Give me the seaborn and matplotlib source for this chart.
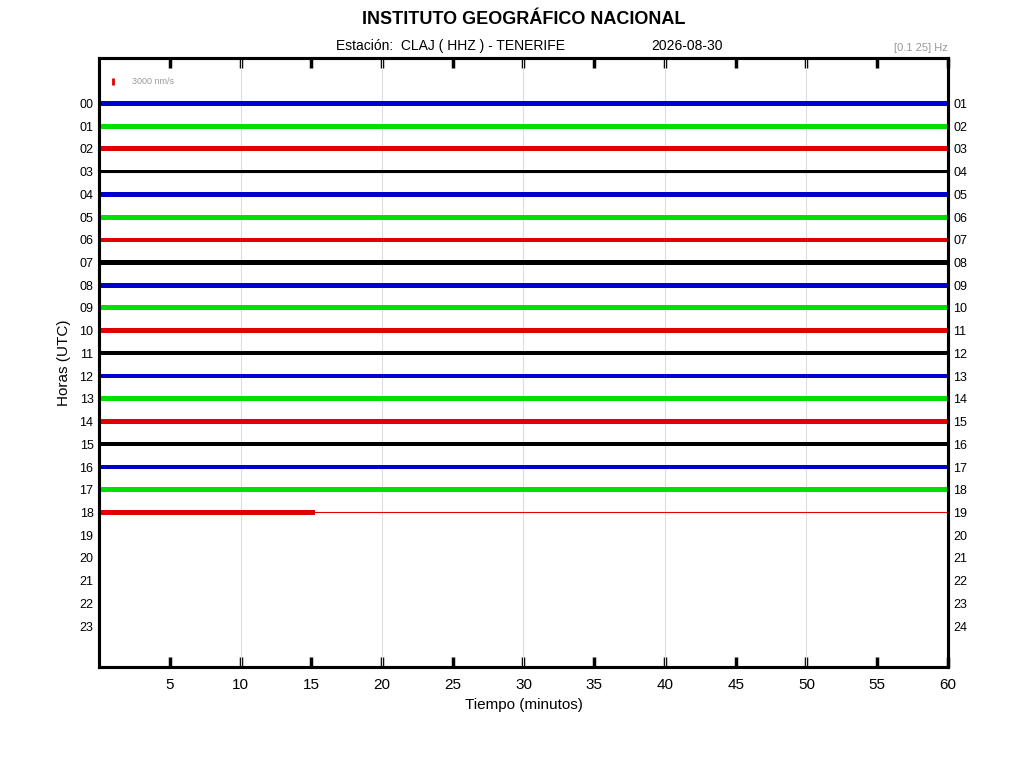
import numpy as np
import pandas as pd
import matplotlib
matplotlib.use("Agg")
import matplotlib.pyplot as plt
import seaborn as sns

sns.set_theme(style="white")
plt.rcParams["font.family"] = ["Liberation Sans", "DejaVu Sans"]
plt.rcParams["text.color"] = "black"
plt.rcParams["axes.labelcolor"] = "black"
plt.rcParams["xtick.color"] = "black"
plt.rcParams["ytick.color"] = "black"

# helicorder rows: one per hour, trace recorded until end_min
hours = list(range(24))
left_labels = [f"{h:02d}" for h in hours]
right_labels = [f"{h + 1:02d}" for h in hours]
trace_colors = ["#0000cc", "#00e000", "#e00000", "#000000"]
# half-width of the noise band in row units
noise_amp = [0.11, 0.11, 0.11, 0.08, 0.11, 0.11, 0.10, 0.09, 0.10, 0.11,
             0.10, 0.09, 0.10, 0.11, 0.11, 0.09, 0.10, 0.11, 0.09]
end_min = [60] * 18 + [15.3]
last_row_flat_to = 60
xticks = [5, 10, 15, 20, 25, 30, 35, 40, 45, 50, 55, 60]
grid_x = [10, 20, 30, 40, 50]

fig = plt.figure(figsize=(10.24, 7.68), dpi=100)
ax = fig.add_axes([0.0967, 0.1315, 0.829, 0.793])

rows = []
for i, amp in enumerate(noise_amp):
    color = trace_colors[i % 4]
    ax.fill_between([0, end_min[i]], [i - amp, i - amp], [i + amp, i + amp],
                    color=color, lw=0, zorder=3)
    rows.append({"row": i, "x0": 0, "x1": last_row_flat_to, "color": color})

lines = pd.DataFrame(rows)
for _, r in lines.iterrows():
    sns.lineplot(x=[r["x0"], r["x1"]], y=[r["row"], r["row"]], color=r["color"],
                 lw=0.8, ax=ax, zorder=4)

for gx in grid_x:
    ax.axvline(gx, color="#dddddd", lw=0.8, zorder=1)

ax.set_xlim(0, 60)
ax.set_ylim(24.8, -2.0)
ax.set_xticks(xticks)
ax.set_xticklabels([str(t) for t in xticks], fontsize=11)
ax.set_yticks(hours)
ax.set_yticklabels(left_labels, fontsize=9)
ax.tick_params(axis="x", direction="in", length=7, width=2.5, top=True,
               bottom=True, pad=8, color="black")
ax.tick_params(axis="y", length=0, pad=4, labelsize=9)

ax_r = ax.twinx()
ax_r.set_ylim(ax.get_ylim())
ax_r.set_yticks(hours)
ax_r.set_yticklabels(right_labels, fontsize=9)
ax_r.tick_params(axis="y", length=0, pad=4)
ax_r.grid(False)

for a in (ax, ax_r):
    for s in a.spines.values():
        s.set_linewidth(2.2)
        s.set_color("black")

ax.set_xlabel("Tiempo (minutos)", fontsize=11, labelpad=4)
ax.set_ylabel("Horas (UTC)", fontsize=11, labelpad=6)

# amplitude scale bar
ax.plot([1.0, 1.0], [-1.1, -0.8], color="#e00000", lw=2, solid_capstyle="butt")
ax.text(2.3, -0.95, "3000 nm/s", fontsize=6.5, color="#999999", va="center")

fig.text(0.511, 0.974, "INSTITUTO GEOGRÁFICO NACIONAL", ha="center", va="center",
         fontsize=13, fontweight="bold")
fig.text(0.44, 0.94, "Estación:  CLAJ ( HHZ ) - TENERIFE", ha="center",
         va="center", fontsize=10)
fig.text(0.671, 0.94, "2026-08-30", ha="center", va="center", fontsize=10)
fig.text(0.926, 0.937, "[0.1 25] Hz", ha="right", va="center", fontsize=8,
         color="#999999")

fig.savefig("out.png", dpi=100)
